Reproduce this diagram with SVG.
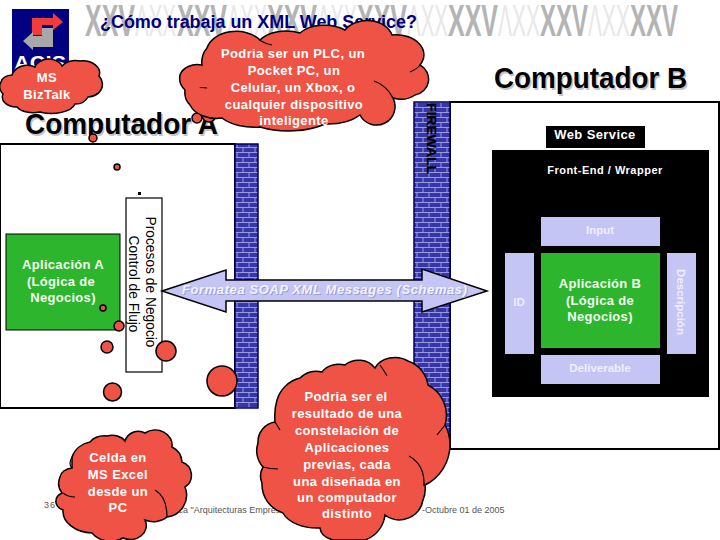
<svg xmlns="http://www.w3.org/2000/svg" width="720" height="540" viewBox="0 0 720 540">
<style>
text{font-family:"Liberation Sans",Arial,sans-serif}
.wm{font-size:44px;font-weight:bold;fill:#b4b4b4}
.wf{font-size:44px;fill:#e8e8e8}
.cl{fill:#ef5345;stroke:#000;stroke-width:1.5}
.cr{fill:none;stroke:#000;stroke-width:1.2}
.ct{font-size:13px;font-weight:bold;fill:#fff;text-anchor:middle;letter-spacing:.4px}
.big{font-size:29px;font-weight:bold;fill:#000}
.sh{font-size:29px;font-weight:bold;fill:#c4c4c4}
.lav{fill:#c5c5f5}
.lt{font-size:11.5px;font-weight:bold;fill:#eeeeff;text-anchor:middle}
.gt{font-size:13px;font-weight:bold;fill:#f2fff2;text-anchor:middle;letter-spacing:.3px}
.green{fill:#2db52d}
.ft{font-size:9px;fill:#555}
.bb{fill:#ef5345;stroke:#000;stroke-width:1.5}
.pt{font-size:14px;fill:#000;text-anchor:middle}
</style>
<defs>
<pattern id="brick" width="12" height="10" patternUnits="userSpaceOnUse">
<rect width="12" height="10" fill="#3636a8"/>
<path d="M0 2.5H12M0 7.5H12M3 0V2.5M9 2.5V7.5M3 7.5V10" stroke="#9a9ae0" stroke-width="1" fill="none"/>
</pattern>
</defs>
<rect width="720" height="540" fill="#fff"/>
<g id="watermark">
<text class="wm" x="85" y="36" textLength="50" lengthAdjust="spacingAndGlyphs">XXV</text>
<text class="wf" x="135" y="36" textLength="41" lengthAdjust="spacingAndGlyphs">ΛXX</text>
<text class="wm" x="177" y="36" textLength="50" lengthAdjust="spacingAndGlyphs">XXV</text>
<text class="wf" x="227" y="36" textLength="40" lengthAdjust="spacingAndGlyphs">ΛXX</text>
<text class="wm" x="267" y="36" textLength="50" lengthAdjust="spacingAndGlyphs">XXV</text>
<text class="wf" x="317" y="36" textLength="40" lengthAdjust="spacingAndGlyphs">ΛXX</text>
<text class="wm" x="357" y="36" textLength="50" lengthAdjust="spacingAndGlyphs">XXV</text>
<text class="wf" x="407" y="36" textLength="41" lengthAdjust="spacingAndGlyphs">ΛXX</text>
<text class="wm" x="448" y="36" textLength="50" lengthAdjust="spacingAndGlyphs">XXV</text>
<text class="wf" x="498" y="36" textLength="42" lengthAdjust="spacingAndGlyphs">ΛXX</text>
<text class="wm" x="540" y="36" textLength="48" lengthAdjust="spacingAndGlyphs">XXV</text>
<text class="wf" x="588" y="36" textLength="42" lengthAdjust="spacingAndGlyphs">ΛXX</text>
<text class="wm" x="630" y="36" textLength="48" lengthAdjust="spacingAndGlyphs">XXV</text>
</g>
<g id="logo">
<rect x="12" y="9" width="57" height="64" fill="#000080"/>
<path d="M32 18H53V13L63 22 53 30V25H42V35H32Z" fill="#f23c3c"/>
<path d="M42 28H53V47H33V50L23 41 33 32V36H42Z" fill="#a8a8a8"/>
<text x="14" y="70" font-size="21" font-weight="bold" fill="#fff" textLength="52" lengthAdjust="spacingAndGlyphs">ACIS</text>
</g>
<text id="title" x="100" y="28" font-size="18" font-weight="bold" fill="#000080" textLength="317" lengthAdjust="spacing">¿Cómo trabaja un XML Web Service?</text>
<g id="computador-a-box">
<rect x="0" y="144" width="235" height="264" fill="#fff" stroke="#000" stroke-width="2"/>
<rect x="235" y="144" width="23" height="264" fill="url(#brick)" stroke="#00005a" stroke-width="1.5"/>
</g>
<g id="computador-b-box">
<rect x="450" y="102" width="269" height="347" fill="#fff" stroke="#000" stroke-width="2"/>
<rect x="414" y="102" width="36" height="347" fill="url(#brick)" stroke="#00005a" stroke-width="1.5"/>
<text transform="translate(427 103) rotate(90)" font-size="13" font-weight="bold" fill="#000" stroke="#000" stroke-width=".3" textLength="71" lengthAdjust="spacingAndGlyphs">FIREWALL</text>
</g>
<text class="sh" x="26.500" y="135.500" textLength="193" lengthAdjust="spacingAndGlyphs">Computador A</text>
<text class="big" x="25" y="134" textLength="193" lengthAdjust="spacingAndGlyphs">Computador A</text>
<text class="sh" x="495.500" y="89.500" textLength="193" lengthAdjust="spacingAndGlyphs">Computador B</text>
<text class="big" x="494" y="88" textLength="193" lengthAdjust="spacingAndGlyphs">Computador B</text>
<g id="web-service">
<rect x="546" y="126" width="99" height="22" fill="#000"/>
<text x="595" y="139" font-size="13" font-weight="bold" fill="#fff" text-anchor="middle" letter-spacing=".4">Web Service</text>
</g>
<g id="wrapper">
<rect x="492" y="150" width="217" height="247" fill="#000"/>
<text x="605" y="174" font-size="11" font-weight="bold" fill="#fff" text-anchor="middle" letter-spacing=".5">Front-End / Wrapper</text>
</g>
<g id="input"><rect class="lav" x="541" y="217" width="119" height="29"/><text class="lt" x="600" y="234">Input</text></g>
<g id="id-box"><rect class="lav" x="505" y="253" width="29" height="101"/><text class="lt" x="519" y="306">ID</text></g>
<g id="description"><rect class="lav" x="667" y="253" width="29" height="101"/><text class="lt" transform="translate(677 302) rotate(90)">Descripción</text></g>
<g id="deliverable"><rect class="lav" x="541" y="355" width="119" height="29"/><text class="lt" x="600" y="372">Deliverable</text></g>
<g id="app-b"><rect class="green" x="541" y="253" width="119" height="95"/>
<text class="gt" x="600" y="288">Aplicación B</text><text class="gt" x="600" y="305">(Lógica de</text><text class="gt" x="600" y="321">Negocios)</text></g>
<g id="app-a"><rect class="green" x="6" y="234" width="114" height="96" stroke="#000" stroke-width="1"/>
<text class="gt" x="63" y="269">Aplicación A</text><text class="gt" x="61" y="286">(Lógica de</text><text class="gt" x="63" y="302">Negocios)</text></g>
<g id="procesos"><rect x="126" y="198" width="36" height="174" fill="#fff" stroke="#000" stroke-width="1.2"/>
<text class="pt" transform="translate(146 282) rotate(90)" textLength="131" lengthAdjust="spacingAndGlyphs">Procesos de Negocio</text>
<text class="pt" transform="translate(129 284) rotate(90)" textLength="97" lengthAdjust="spacingAndGlyphs">Control de Flujo</text></g>
<g id="connectors">
<path d="M162 291L226 270V280H422V269L487 291 422 312V301H226V312Z" fill="#c5c5f5" stroke="#000" stroke-width="1.5"/>
<text x="182" y="294" font-size="13" font-weight="bold" font-style="italic" fill="#9c9cc8" textLength="285" lengthAdjust="spacing" transform="translate(1 1)">Formatea SOAP XML Messages (Schemas)</text>
<text x="182" y="294" font-size="13" font-weight="bold" font-style="italic" fill="#f2f2ff" textLength="285" lengthAdjust="spacing">Formatea SOAP XML Messages (Schemas)</text>
</g>
<text class="ft" x="44" y="508" letter-spacing="1">36</text>
<text class="ft" x="169" y="513">ática "Arquitecturas Empresa</text>
<text class="ft" x="422" y="513">-Octubre 01 de 2005</text>
<g id="bubbles">
<circle class="bb" cx="209" cy="115" r="7"/><circle class="bb" cx="197" cy="118" r="5"/>
<circle class="bb" cx="93" cy="138" r="4"/><circle class="bb" cx="117" cy="167" r="3"/>
<rect x="138" y="192" width="3" height="3" fill="#000"/>
<circle class="bb" cx="103" cy="308" r="3"/><circle class="bb" cx="119" cy="326" r="5"/>
<circle class="bb" cx="107" cy="347" r="6"/><circle class="bb" cx="166" cy="351" r="10"/>
<circle class="bb" cx="112.500" cy="392" r="9"/><circle class="bb" cx="222" cy="381" r="15"/>
</g>
<g id="cloud-plc">
<path class="cl" d="M202 65A22 22 0 0 1 207 48A30 22 0 0 1 260 40A30 18 0 0 1 300 33A30 18 0 0 1 345 30A26 20 0 0 1 392 35A28 20 0 0 1 420 65A16 16 0 0 1 415 95A22 18 0 0 1 393 98A18 18 0 0 1 360 115A40 22 0 0 1 325 124A50 22 0 0 1 260 127A40 22 0 0 1 222 118A28 20 0 0 1 190 105A18 18 0 0 1 185 90A16 16 0 0 1 180 75A18 14 0 0 1 202 65Z"/>
<path class="cr" d="M259 40Q266 44 272 45M200 88Q200 87 207 88M410 72Q417 69 420 65M374 81Q386 85 393 98"/>
<text class="ct" x="293" y="58">Podria ser un PLC, un</text>
<text class="ct" x="294" y="75">Pocket PC, un</text>
<text class="ct" x="293" y="92">Celular, un Xbox, o</text>
<text class="ct" x="294" y="109">cualquier dispositivo</text>
<text class="ct" x="294" y="125">inteligente</text>
</g>
<g id="cloud-biztalk">
<path class="cl" d="M12 75A16 14 0 0 1 35 67A14 10 0 0 1 62 66A16 12 0 0 1 80 61A17 12 0 0 1 99 76A12 12 0 0 1 101 90A16 14 0 0 1 88 97A14 12 0 0 1 75 104A24 12 0 0 1 40 112A18 10 0 0 1 17 107A14 10 0 0 1 3 94A10 10 0 0 1 1 82A12 8 0 0 1 12 75Z"/>
<text class="ct" x="47" y="82">MS</text>
<text class="ct" x="47" y="99">BizTalk</text>
</g>
<g id="cloud-excel">
<path class="cl" d="M72 457A24 22 0 0 1 90 442A18 14 0 0 1 107 436A14 10 0 0 1 125 441A14 14 0 0 1 145 433A17 15 0 0 1 172 447A18 18 0 0 1 182 462A14 14 0 0 1 185 487A22 22 0 0 1 167 517A18 14 0 0 1 145 520A16 14 0 0 1 123 538A22 18 0 0 1 92 533A30 22 0 0 1 63 510A14 10 0 0 1 62 493A16 16 0 0 1 60 477A14 10 0 0 1 72 468Z"/>
<path class="cr" d="M63 493Q68 497 75 497M155 490Q167 497 167 517M72 468Q68 464 72 457"/>
<text class="ct" x="118" y="462">Celda en</text>
<text class="ct" x="118" y="479">MS Excel</text>
<text class="ct" x="118" y="496">desde un</text>
<text class="ct" x="118" y="512">PC</text>
</g>
<g id="cloud-constelacion">
<path class="cl" d="M277 400A32 32 0 0 1 300 378A22 22 0 0 1 322 372A20 16 0 0 1 345 365A20 18 0 0 1 375 368A22 18 0 0 1 408 361A30 30 0 0 1 428 385A34 34 0 0 1 445 425A40 40 0 0 1 450 445A45 45 0 0 1 425 485A28 28 0 0 1 423 500A24 24 0 0 1 385 515A30 30 0 0 1 365 540L333 540A22 14 0 0 1 320 528A36 22 0 0 1 283 513A30 30 0 0 1 262 483A18 18 0 0 1 263 467A24 24 0 0 1 258 443A20 20 0 0 1 275 422Q274 410 277 400Z"/>
<path class="cr" d="M275 422Q277 425 280 430M263 467Q270 469 278 469M437 435L445 425M409 456Q425 465 424 486M380 365Q385 372 387 376"/>
<text class="ct" x="346" y="401">Podria ser el</text>
<text class="ct" x="347" y="418">resultado de una</text>
<text class="ct" x="347" y="435">constelación de</text>
<text class="ct" x="347" y="452">Aplicaciones</text>
<text class="ct" x="347" y="469">previas, cada</text>
<text class="ct" x="347" y="486">una diseñada en</text>
<text class="ct" x="347" y="502">un computador</text>
<text class="ct" x="347" y="518">distinto</text>
</g>
</svg>
